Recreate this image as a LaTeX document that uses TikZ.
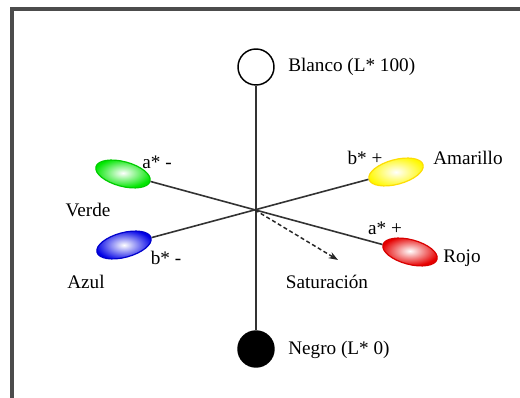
\documentclass[tikz,border=0pt]{standalone}
\usepackage{fontspec}
\setmainfont{Liberation Serif}
\usetikzlibrary{shapes.geometric,arrows.meta}
\begin{document}
\begin{tikzpicture}[x=0.75pt,y=0.75pt,
  lbl/.style={font=\fontsize{14.4}{17}\selectfont, inner sep=0pt, text=black},
  blob/.style={ellipse, minimum width=42pt, minimum height=18.5pt, inner sep=0pt,
     line width=0.9pt, shading=radial},
  axis/.style={draw=black!80, line width=1.2pt},
  pole/.style={circle, minimum size=27pt, inner sep=0pt, line width=1.1pt}]
\useasboundingbox (0,0) rectangle (520,398);
\fill[white] (0,0) rectangle (520,398);
% frame
\draw[black!70, line width=2.4pt] (12,0) -- (12,389) -- (520,389);
% nodes
\node[pole, draw=black, fill=white] (white) at (256,331) {};
\node[pole, draw=black, fill=black] (black) at (256,49) {};
\coordinate (c) at (255,188);
\node[blob, rotate=-15, draw=green!80!black, inner color=white, outer color=green!90!black] (green) at (123,224) {};
\node[blob, rotate=-15, draw=red!85!black, inner color=white, outer color=red!90!black] (red) at (410,146) {};
\node[blob, rotate=15, draw=blue!80!black, inner color=white, outer color=blue!90!black] (blue) at (124,153) {};
\node[blob, rotate=15, draw=yellow!80!orange, inner color=white, outer color=yellow!95!orange] (yellow) at (396,226) {};
\coordinate (sat) at (338,138);
% axes
\draw[axis] (white) -- (black);
\draw[axis] (green) -- (red);
\draw[axis] (blue) -- (yellow);
\draw[black!85, line width=1.1pt, densely dashed, -{Stealth[length=7pt,width=5pt]}] (c) -- (sat);
% labels
\node[lbl, anchor=west] (tw) at (288,331) {Blanco (L* 100)};
\node[lbl, anchor=west] (tb) at (288,48) {Negro (L* 0)};
\node[lbl] (am) at (157,236) {a* -};
\node[lbl] (tv) at (88,188) {Verde};
\node[lbl] (bm) at (166,140) {b* -};
\node[lbl] (ta) at (86,116) {Azul};
\node[lbl] (bp) at (365,240) {b* +};
\node[lbl] (ty) at (468,240) {Amarillo};
\node[lbl] (ap) at (385,170) {a* +};
\node[lbl] (tr) at (462,140) {Rojo};
\node[lbl] (ts) at (327,116) {Saturación};
\end{tikzpicture}
\end{document}
